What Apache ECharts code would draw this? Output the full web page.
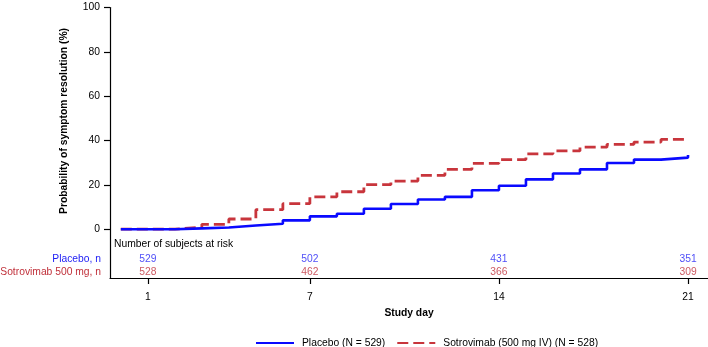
<!DOCTYPE html>
<html>
<head>
<meta charset="utf-8">
<script src="https://cdn.jsdelivr.net/npm/echarts@6/dist/echarts.min.js"></script>
<style>
  html, body { margin: 0; padding: 0; background: #fff; }
  #chart { width: 708px; height: 347px; }
</style>
</head>
<body>
<div id="chart"></div>
<script>
// probability (%) from each day onward
var days = [0, 1, 2, 3, 4, 5, 6, 7, 8, 9, 10, 11, 12, 13, 14, 15, 16, 17, 18, 19, 20, 21];
var placeboProb = [0, 0, 0.4, 0.8, 1.7, 2.5, 4.0, 5.8, 7.0, 9.2, 11.4, 13.4, 14.6, 17.6, 19.6, 22.5, 25.1, 27.0, 29.9, 31.4, 32.3, 33.5];
var sotroProb = [0, 0, 0.9, 2.2, 4.6, 8.8, 11.5, 14.6, 16.9, 20.1, 21.7, 24.3, 27.0, 29.7, 31.4, 34.0, 35.3, 37.0, 38.3, 39.3, 40.5, 40.5];

// number at risk table
var riskDays = [1, 7, 14, 21];
var placeboRisk = [529, 502, 431, 351];
var sotroRisk = [528, 462, 366, 309];

var xTicks = [1, 7, 14, 21];
var yTicks = [0, 20, 40, 60, 80, 100];

var blue = '#0a0aff';
var red = '#c8353c';
var font = 'Liberation Sans, Arial, sans-serif';
var fs = 10.3;

function pairs(xs, ys) {
  return xs.map(function (x, i) { return [x, ys[i]]; });
}

var chart = echarts.init(document.getElementById('chart'));

var option = {
  animation: false,
  textStyle: { fontFamily: font },
  grid: { left: 110, right: 0, top: 7.5, bottom: 69 },
  xAxis: {
    type: 'value',
    min: -0.4,
    max: 21.74,
    name: 'Study day',
    nameLocation: 'middle',
    nameGap: 30,
    nameTextStyle: { fontFamily: font, fontSize: fs, fontWeight: 'bold', color: '#000' },
    axisLine: { onZero: false, lineStyle: { color: '#000', width: 1.2 } },
    axisTick: { show: true, length: 6, customValues: xTicks, lineStyle: { color: '#000', width: 1.2 } },
    axisLabel: { customValues: xTicks, margin: 14, fontSize: fs, color: '#000', fontFamily: font },
    splitLine: { show: false }
  },
  yAxis: {
    type: 'value',
    min: -22,
    max: 100,
    axisLine: { show: true, onZero: false, lineStyle: { color: '#000', width: 1.2 } },
    axisTick: { show: true, length: 6, customValues: yTicks, lineStyle: { color: '#000', width: 1.2 } },
    axisLabel: { customValues: yTicks, margin: 10, fontSize: fs, color: '#000', fontFamily: font, padding: [5, 0, 0, 0] },
    splitLine: { show: false }
  },
  legend: {
    data: ['Placebo (N = 529)', 'Sotrovimab (500 mg IV) (N = 528)'],
    left: 250,
    top: 333,
    itemWidth: 38,
    itemHeight: 10,
    itemGap: 11,
    itemStyle: { opacity: 0 },
    textStyle: { fontFamily: font, fontSize: fs, color: '#000', padding: [0, 0, 0, 3] }
  },
  series: [
    {
      name: 'Placebo (N = 529)',
      type: 'line',
      step: 'end',
      symbol: 'none',
      data: pairs(days, placeboProb),
      lineStyle: { color: blue, width: 2.6 },
      itemStyle: { color: blue },
      z: 3
    },
    {
      name: 'Sotrovimab (500 mg IV) (N = 528)',
      type: 'line',
      step: 'end',
      symbol: 'none',
      data: pairs(days, sotroProb),
      lineStyle: { color: red, width: 2.8, type: [11, 5] },
      itemStyle: { color: red },
      z: 2
    },
    {
      name: 'risk-placebo',
      type: 'scatter',
      symbolSize: 0,
      silent: true,
      data: riskDays.map(function (d, i) { return [d, -13.5, placeboRisk[i]]; }),
      label: {
        show: true, position: 'inside', fontSize: fs, fontFamily: font, color: '#1c1cf5',
        formatter: function (p) { return String(p.value[2]); }
      }
    },
    {
      name: 'risk-sotro',
      type: 'scatter',
      symbolSize: 0,
      silent: true,
      data: riskDays.map(function (d, i) { return [d, -19.4, sotroRisk[i]]; }),
      label: {
        show: true, position: 'inside', fontSize: fs, fontFamily: font, color: '#c0303a',
        formatter: function (p) { return String(p.value[2]); }
      }
    }
  ],
  graphic: [
    {
      type: 'text', x: 64, y: 121, rotation: Math.PI / 2,
      style: {
        text: 'Probability of symptom resolution (%)', fontFamily: font, fontSize: fs,
        fontWeight: 'bold', fill: '#000', align: 'center', verticalAlign: 'middle'
      }
    },
    {
      type: 'text', x: 114, y: 244,
      style: { text: 'Number of subjects at risk', fontFamily: font, fontSize: fs, fill: '#000', verticalAlign: 'middle' }
    },
    {
      type: 'text', x: 101, y: 259,
      style: { text: 'Placebo, n', fontFamily: font, fontSize: fs, fill: '#1c1cf5', align: 'right', verticalAlign: 'middle' }
    },
    {
      type: 'text', x: 101, y: 272,
      style: { text: 'Sotrovimab 500 mg, n', fontFamily: font, fontSize: fs, fill: '#c0303a', align: 'right', verticalAlign: 'middle' }
    }
  ]
};

chart.setOption(option, true);
</script>
</body>
</html>
